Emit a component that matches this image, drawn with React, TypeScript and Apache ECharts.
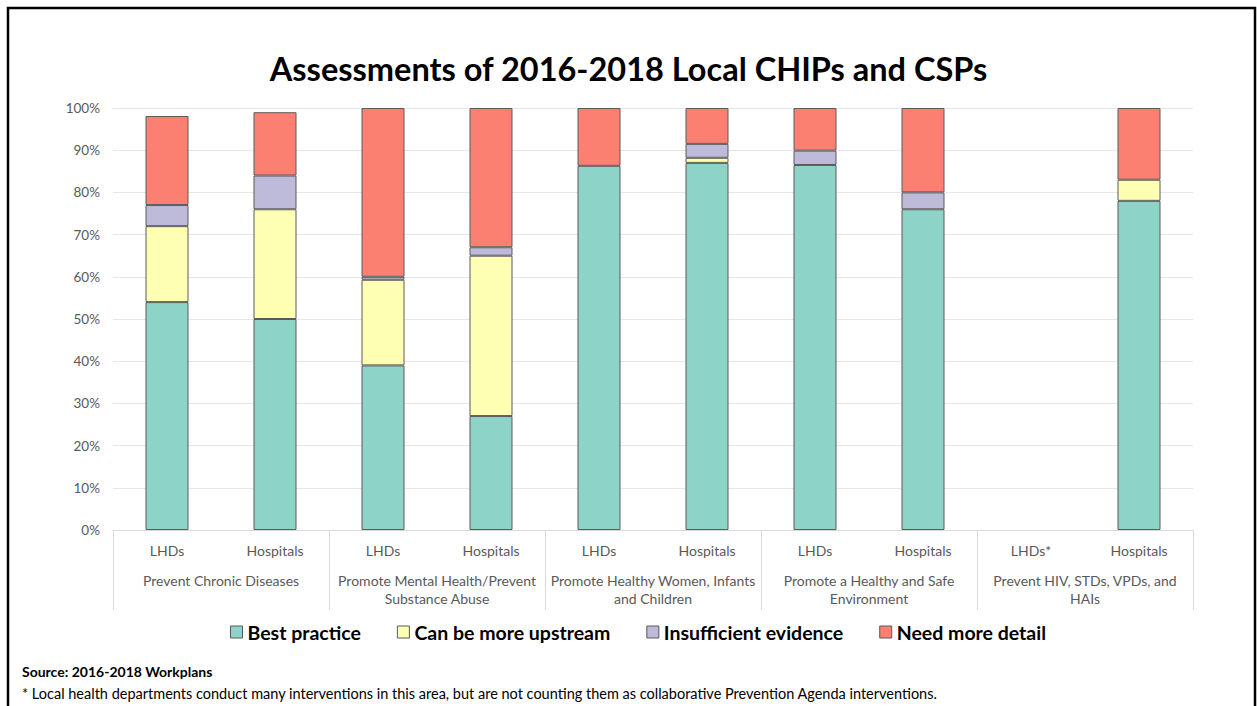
import React, { useEffect, useRef } from "react";
import * as echarts from "echarts";

const categories = ["LHDs", "Hospitals", "LHDs", "Hospitals", "LHDs", "Hospitals", "LHDs", "Hospitals", "LHDs*", "Hospitals"];
const groups = [
  "Prevent Chronic Diseases",
  "Promote Mental Health/Prevent\nSubstance Abuse",
  "Promote Healthy Women, Infants\nand Children",
  "Promote a Healthy and Safe\nEnvironment",
  "Prevent HIV, STDs, VPDs, and\nHAIs",
];
const yTicks = [0, 10, 20, 30, 40, 50, 60, 70, 80, 90, 100];

const bestPractice = [54, 50, 39, 27, 86.3, 87, 86.5, 76, null, 78];
const moreUpstream = [18, 26, 20.3, 38, 0, 1.2, 0, 0, null, 5];
const insufficient = [5, 8, 0.7, 2, 0, 3.3, 3.4, 4, null, 0];
const needDetail = [21.1, 15, 40, 33, 13.7, 8.5, 10.1, 20, null, 17];

const seriesNames = ["Best practice", "Can be more upstream", "Insufficient evidence", "Need more detail"];
const seriesColors = ["#8dd3c7", "#ffffb3", "#bebada", "#fb8072"];
const seriesValues = [bestPractice, moreUpstream, insufficient, needDetail];

const FONT = "Lato, 'Open Sans', sans-serif";

export default function App() {
  const ref = useRef<HTMLDivElement>(null);
  useEffect(() => {
    if (!ref.current) return;
    const chart = echarts.init(ref.current, undefined, { renderer: "svg" });
    chart.setOption({
      animation: false,
      backgroundColor: "#ffffff",
      textStyle: { fontFamily: FONT },
      title: {
        text: "Assessments of 2016-2018 Local CHIPs and CSPs",
        left: "center",
        top: 47,
        textStyle: { fontFamily: FONT, fontSize: 32.5, fontWeight: "bold", color: "#000" },
      },
      legend: {
        data: seriesNames,
        left: 225,
        top: 617,
        itemWidth: 12,
        itemHeight: 12,
        itemGap: 36,
        icon: "rect",
        itemStyle: { borderColor: "#595959", borderWidth: 1 },
        textStyle: { fontFamily: FONT, fontSize: 19.5, fontWeight: "bold", color: "#000" },
      },
      grid: { left: 113, right: 64, top: 108, bottom: 176, containLabel: false },
      xAxis: [
        {
          type: "category",
          data: categories,
          axisLine: { show: true, lineStyle: { color: "#d9d9d9" } },
          axisTick: { show: false },
          axisLabel: { margin: 13, fontSize: 14, color: "#595959", fontFamily: FONT, interval: 0 },
        },
        {
          type: "category",
          data: groups,
          position: "bottom",
          axisLine: { show: false },
          axisTick: { show: true, length: 80, interval: 0, lineStyle: { color: "#d9d9d9" } },
          axisLabel: { margin: 41, fontSize: 14, lineHeight: 18, color: "#595959", fontFamily: FONT, interval: 0 },
        },
      ],
      yAxis: {
        type: "value",
        min: yTicks[0],
        max: yTicks[yTicks.length - 1],
        interval: 10,
        axisLine: { show: false },
        axisTick: { show: false },
        splitLine: { lineStyle: { color: "#e6e6e6" } },
        axisLabel: { formatter: "{value}%", fontSize: 13.5, color: "#595959", fontFamily: FONT, margin: 13 },
      },
      series: seriesNames.map((name, i) => ({
        name,
        type: "bar",
        stack: "total",
        barWidth: 43,
        xAxisIndex: 0,
        itemStyle: { color: seriesColors[i], borderColor: "#5a5a5a", borderWidth: 1 },
        data: seriesValues[i].map((v) => (v === null || v === 0 ? "-" : v)),
      })),
      graphic: [
        {
          type: "rect",
          shape: { x: 8, y: 8, width: 1247, height: 720 },
          style: { fill: "none", stroke: "#000", lineWidth: 2.5 },
          silent: true,
        },
        {
          type: "text",
          left: 22,
          top: 664,
          style: { text: "Source: 2016-2018 Workplans", font: `bold 14px ${FONT}`, fill: "#000" },
        },
        {
          type: "text",
          left: 22,
          top: 686,
          style: {
            text: "* Local health departments conduct many interventions in this area, but are not counting them as collaborative Prevention Agenda interventions.",
            font: `14.5px ${FONT}`,
            fill: "#000",
          },
        },
      ],
    });
    return () => chart.dispose();
  }, []);
  return <div ref={ref} style={{ position: "fixed", left: 0, top: 0, width: 1257, height: 706 }} />;
}
